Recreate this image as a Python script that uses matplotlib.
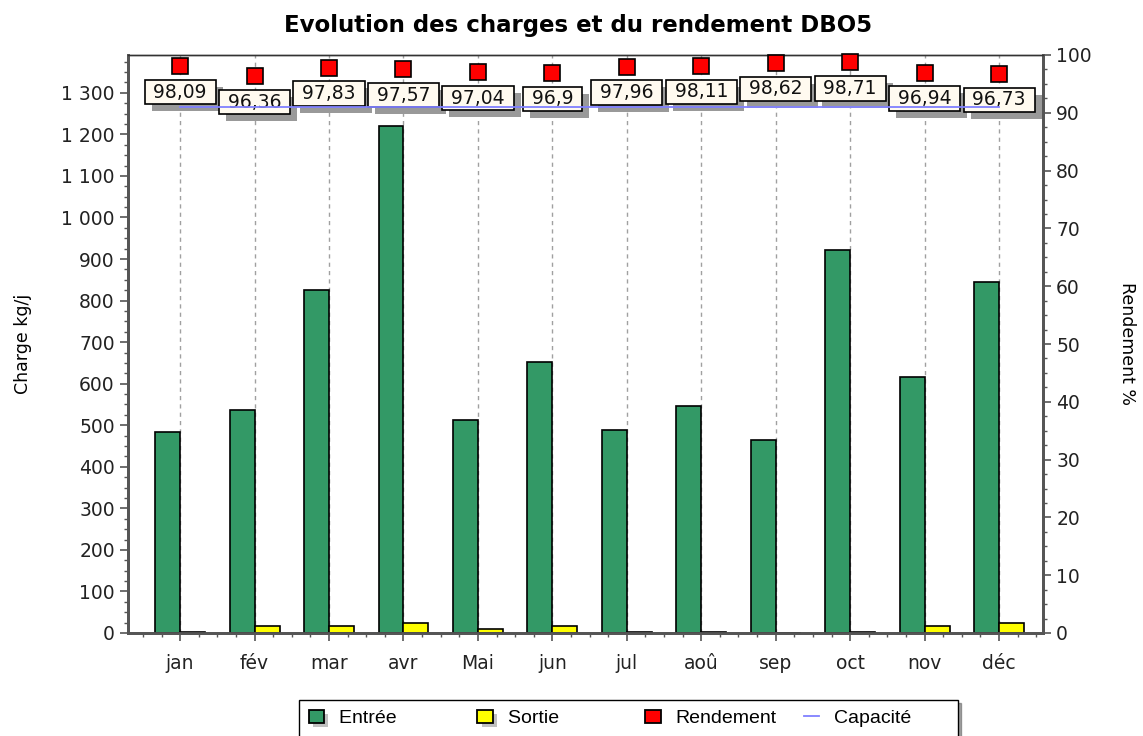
import matplotlib
matplotlib.use("Agg")
import matplotlib.pyplot as plt
import numpy as np
from matplotlib.patches import Patch, Rectangle
from matplotlib.lines import Line2D
from matplotlib.ticker import MultipleLocator
from matplotlib.legend_handler import HandlerPatch

mois = ["jan", "fév", "mar", "avr", "Mai", "jun", "jul", "aoû", "sep", "oct", "nov", "déc"]
entree = [484, 537, 826, 1220, 513, 652, 489, 546, 465, 922, 616, 845]
sortie = [3, 16, 16, 25, 10, 16, 3, 3, 1, 3, 16, 25]
rendement = [98.09, 96.36, 97.83, 97.57, 97.04, 96.9, 97.96, 98.11, 98.62, 98.71, 96.94, 96.73]
capacite = [1265] * 12
left_ticks = list(range(0, 1301, 100))
left_labels = ["0", "100", "200", "300", "400", "500", "600", "700", "800", "900",
               "1 000", "1 100", "1 200", "1 300"]

W, H = 1143, 736
fig = plt.figure(figsize=(W / 100, H / 100), dpi=100)
ax = fig.add_axes([128 / W, 1 - 633 / H, (1043 - 128) / W, (633 - 55) / H])
ax2 = ax.twinx()

x = np.arange(len(mois))
bw = 0.335
ax.bar(x - bw / 2, entree, bw, color="#339966", edgecolor="black", linewidth=1.2, zorder=3)
ax.bar(x + bw / 2, sortie, bw, color="#ffff00", edgecolor="black", linewidth=1.2, zorder=3)

ax.set_xlim(-0.7, 11.59)
ax.set_ylim(0, 1391)
ax.set_yticks(left_ticks)
ax.set_yticklabels(left_labels)
ax.yaxis.set_minor_locator(MultipleLocator(25))
ax.set_xticks(x)
ax.set_xticklabels(mois)
ax.xaxis.set_minor_locator(MultipleLocator(0.25))
ax.set_axisbelow(True)
ax.xaxis.grid(True, linestyle=(0, (3, 3)), color="#a0a0a0", linewidth=1)

ax2.set_ylim(0, 100)
ax2.set_yticks(range(0, 101, 10))
ax2.yaxis.set_minor_locator(MultipleLocator(2.5))

tick_fs = 13.5
for a in (ax, ax2):
    a.tick_params(axis="both", which="major", labelsize=tick_fs, length=6, width=1.2,
                  color="#555555", labelcolor="#222222")
    a.tick_params(axis="both", which="minor", length=3, width=1, color="#555555")
ax.tick_params(axis="x", which="major", pad=9)

for a in (ax, ax2):
    for s in ("left", "bottom", "right"):
        a.spines[s].set_linewidth(2)
        a.spines[s].set_color("#555555")
    a.spines["top"].set_linewidth(1)
    a.spines["top"].set_color("#333333")

# capacity line on top of label boxes
ax2.plot(x, capacite, color="#8080ff", linewidth=1.3, transform=ax.transData, zorder=8)

# rendement markers
ax2.plot(x, rendement, linestyle="none", marker="s", markersize=11, markerfacecolor="#ff0000",
         markeredgecolor="black", markeredgewidth=1.2, zorder=6, clip_on=False)

# value labels with shadows
lab_fs = 13.5
for xi, v in zip(x, rendement):
    txt = f"{v:.2f}".rstrip("0").rstrip(".").replace(".", ",")
    ax2.annotate(" " + txt + " ", (xi, v), xytext=(7, -33), textcoords="offset pixels",
                 ha="center", va="center", fontsize=lab_fs, color="#999999", zorder=4,
                 bbox=dict(boxstyle="square,pad=0.15", facecolor="#999999", edgecolor="none"))
for xi, v in zip(x, rendement):
    txt = f"{v:.2f}".rstrip("0").rstrip(".").replace(".", ",")
    ax2.annotate(" " + txt + " ", (xi, v), xytext=(0, -26), textcoords="offset pixels",
                 ha="center", va="center", fontsize=lab_fs, color="#111111", zorder=5,
                 bbox=dict(boxstyle="square,pad=0.15", facecolor="#fffaf0", edgecolor="black",
                           linewidth=1.2))

ax.set_ylabel("Charge kg/j", fontsize=12.5, labelpad=21)
ax2.set_ylabel("Rendement %", fontsize=12.5, rotation=270, labelpad=32)

fig.suptitle("Evolution des charges et du rendement DBO5", fontsize=16.5, fontweight="bold",
             x=578 / W, y=1 - 14 / H, va="top")


class ShadowHandler(HandlerPatch):
    def __init__(self, shadow=True):
        super().__init__()
        self.shadow = shadow

    def create_artists(self, legend, orig_handle, xdescent, ydescent, width, height,
                       fontsize, trans):
        arts = []
        if self.shadow:
            arts.append(Rectangle((-xdescent + 3, -ydescent - 3), width, height,
                                  facecolor="#c0c0c0", edgecolor="none", transform=trans))
        arts.append(Rectangle((-xdescent, -ydescent), width, height,
                              facecolor=orig_handle.get_facecolor(), edgecolor="black",
                              linewidth=1.3, transform=trans))
        return arts


h_e = Patch(facecolor="#339966", edgecolor="black", label="Entrée" + " " * 10)
h_s = Patch(facecolor="#ffff00", edgecolor="black", label="Sortie" + " " * 11)
h_r = Patch(facecolor="#ff0000", edgecolor="black", label="Rendement")
h_c = Line2D([0], [0], color="#8080ff", linewidth=1.3, label="Capacité" + " " * 7)
leg = fig.legend(handles=[h_e, h_s, h_r, h_c],
                 handler_map={h_e: ShadowHandler(True), h_s: ShadowHandler(True),
                              h_r: ShadowHandler(False)},
                 loc="upper left", bbox_to_anchor=(299 / W, 1 - 700 / H),
                 ncol=4, frameon=True, fancybox=False, shadow=True, edgecolor="black",
                 prop={"family": "Liberation Sans", "size": 14}, columnspacing=1.4,
                 handlelength=0.8, handleheight=0.65, handletextpad=0.75, borderpad=0.5,
                 borderaxespad=0)
leg.get_frame().set_linewidth(1)

fig.savefig("out.png", dpi=100)
